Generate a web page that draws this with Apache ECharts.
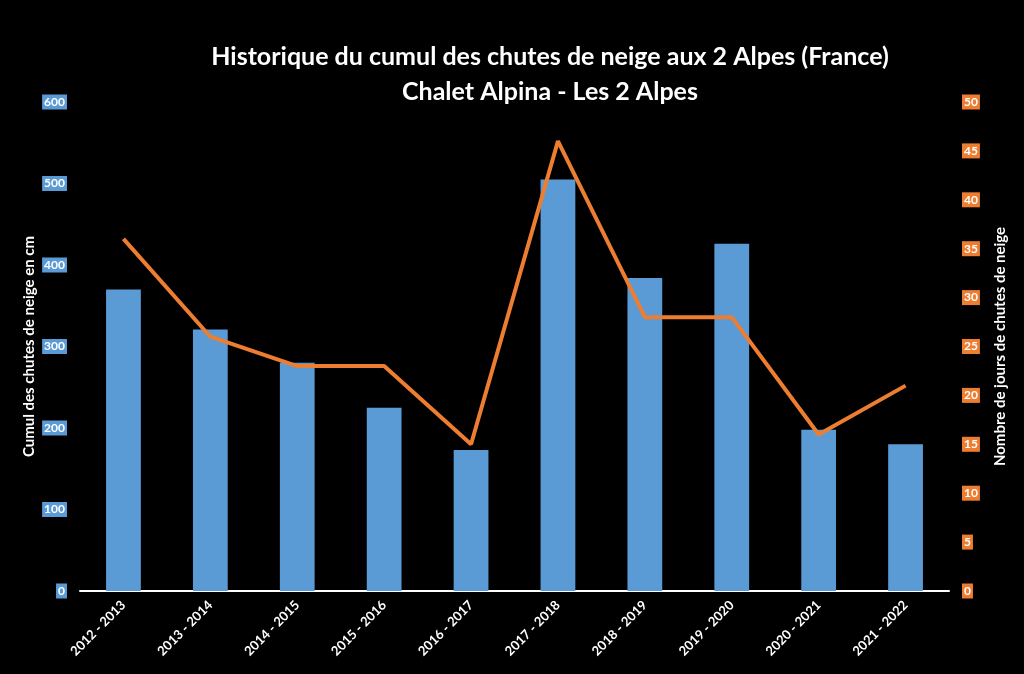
<!DOCTYPE html>
<html>
<head>
    <meta charset="utf-8" />
    <title>Chutes de neige</title>
    <script src="https://cdn.jsdelivr.net/npm/echarts@6/dist/echarts.min.js"></script>
    <style>
        html, body { margin: 0; padding: 0; background: #000; }
    </style>
</head>
<body>
    <div id="main" style="width:1024px;height:674px"></div>
    <script type="text/javascript">

        var seasons = ['2012 - 2013', '2013 - 2014', '2014 - 2015', '2015 - 2016', '2016 - 2017',
            '2017 - 2018', '2018 - 2019', '2019 - 2020', '2020 - 2021', '2021 - 2022'];
        var cumulCm = [370, 321, 280, 225, 173, 505, 384, 426, 198, 180];
        var joursNeige = [36, 26, 23, 23, 15, 46, 28, 28, 16, 21];

        var blue = '#5b9bd5';
        var orange = '#ed7d31';
        var font = 'Lato';

        var chartDom = document.getElementById('main');
        var myChart = echarts.init(chartDom);
        var option;

        option = {
            backgroundColor: '#000',
            textStyle: { fontFamily: font },
            title: {
                text: 'Historique du cumul des chutes de neige aux 2 Alpes (France)\nChalet Alpina - Les 2 Alpes',
                left: 545,
                top: 34,
                textAlign: 'center',
                textStyle: {
                    color: '#fff',
                    fontSize: 25,
                    fontWeight: 'bold',
                    fontFamily: font,
                    lineHeight: 35
                }
            },
            grid: {
                left: 80,
                right: 75,
                top: 102,
                bottom: 83
            },
            xAxis: {
                type: 'category',
                data: seasons,
                axisLine: { lineStyle: { color: '#fff', width: 2 } },
                axisTick: { show: false },
                axisLabel: {
                    color: '#fff',
                    fontWeight: 'bold',
                    fontSize: 13,
                    rotate: 45,
                    margin: 12,
                    interval: 0
                }
            },
            yAxis: [{
                type: 'value',
                min: 0,
                max: 600,
                interval: 100,
                name: 'Cumul des chutes de neige en cm',
                nameLocation: 'middle',
                nameRotate: 90,
                nameGap: 43,
                nameMoveOverlap: false,
                nameTextStyle: { color: '#fff', fontWeight: 'bold', fontSize: 15 },
                splitLine: { show: false },
                axisLine: { show: false },
                axisTick: { show: false },
                axisLabel: {
                    color: '#fff',
                    fontWeight: 'bold',
                    fontSize: 12,
                    backgroundColor: blue,
                    padding: [2, 2, 1, 2],
                    margin: 13
                }
            }, {
                type: 'value',
                min: 0,
                max: 50,
                interval: 5,
                name: 'Nombre de jours de chutes de neige',
                nameLocation: 'middle',
                nameRotate: 90,
                nameGap: 44,
                nameTextStyle: { color: '#fff', fontWeight: 'bold', fontSize: 15 },
                splitLine: { show: false },
                axisLine: { show: false },
                axisTick: { show: false },
                axisLabel: {
                    color: '#fff',
                    fontWeight: 'bold',
                    fontSize: 12,
                    backgroundColor: orange,
                    padding: [2, 2, 1, 2],
                    margin: 13
                }
            }],
            series: [{
                name: 'Cumul',
                type: 'bar',
                yAxisIndex: 0,
                barWidth: '40%',
                itemStyle: { color: blue },
                data: cumulCm
            }, {
                name: 'Jours',
                type: 'line',
                yAxisIndex: 1,
                symbol: 'none',
                lineStyle: { color: orange, width: 4 },
                data: joursNeige
            }]
        };

        option && myChart.setOption(option);

    </script>
</body>
</html>
